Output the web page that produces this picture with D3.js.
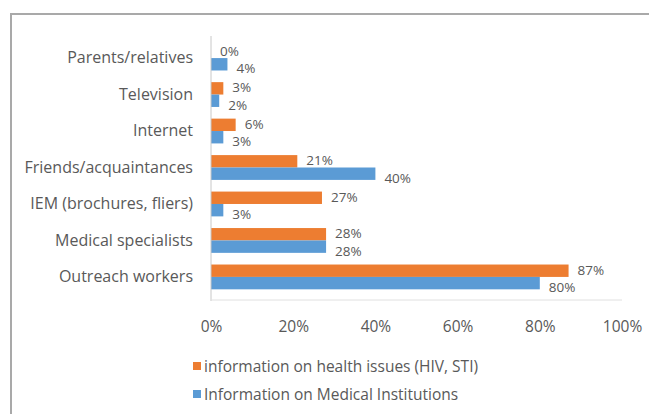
<!DOCTYPE html>
<html>
<head>
<meta charset="utf-8">
<script src="https://cdn.jsdelivr.net/npm/d3@7/dist/d3.min.js"></script>
<style>
  html, body { margin: 0; padding: 0; background: #fff; }
  svg { display: block; }
  text { font-family: "Open Sans", "Noto Sans", sans-serif; fill: #595959; }
</style>
</head>
<body>
<svg id="chart" width="649" height="414"></svg>
<script>
// Sources of information, share of respondents (%)
const categories = [
  "Parents/relatives",
  "Television",
  "Internet",
  "Friends/acquaintances",
  "IEM (brochures, fliers)",
  "Medical specialists",
  "Outreach workers"
];
const healthIssues = [0, 3, 6, 21, 27, 28, 87];        // information on health issues (HIV, STI)
const medicalInstitutions = [4, 2, 3, 40, 3, 28, 80];  // Information on Medical Institutions
const seriesNames = ["information on health issues (HIV, STI)", "Information on Medical Institutions"];
const seriesColors = ["#ED7D31", "#5B9BD5"];
const tickValues = [0, 20, 40, 60, 80, 100];

const svg = d3.select("#chart");

// outer frame (top and left edges visible)
svg.append("path")
  .attr("d", "M11,414 V14 H649")
  .attr("fill", "none")
  .attr("stroke", "#a9a9a9")
  .attr("stroke-width", 2);

const x = d3.scaleLinear().domain([0, 100]).range([211, 622]);
const y = d3.scaleBand().domain(categories).range([34, 301]).padding(0.32);
const sub = d3.scaleBand().domain([0, 1]).range([0, y.bandwidth()]);

const series = [healthIssues, medicalInstitutions];

// bars
series.forEach((vals, s) => {
  svg.append("g").selectAll("rect")
    .data(categories.map((c, i) => ({ c, v: vals[i] })))
    .join("rect")
    .attr("x", x(0))
    .attr("y", d => y(d.c) + sub(s))
    .attr("width", d => x(d.v) - x(0))
    .attr("height", sub.bandwidth())
    .attr("fill", seriesColors[s]);
});

// data labels, nudged apart so the two values of a pair stay readable
const labelShift = [-1, 4];
series.forEach((vals, s) => {
  svg.append("g").selectAll("text")
    .data(categories.map((c, i) => ({ c, v: vals[i] })))
    .join("text")
    .attr("x", d => x(d.v) + 9)
    .attr("y", d => y(d.c) + sub(s) + sub.bandwidth() / 2 + labelShift[s])
    .attr("dominant-baseline", "central")
    .attr("font-size", 13.5)
    .text(d => d.v + "%");
});

// category axis
const yAxis = svg.append("g")
  .attr("transform", `translate(${x(0)},0)`)
  .call(d3.axisLeft(y).tickSize(0).tickPadding(18));
yAxis.select(".domain").attr("stroke", "#c8c8c8").attr("d", `M0,36V301`);
yAxis.selectAll("text").attr("font-size", 16).attr("fill", "#595959");

// value axis (labels only, light baseline)
svg.append("line")
  .attr("x1", x(0)).attr("x2", x(100))
  .attr("y1", 300).attr("y2", 300)
  .attr("stroke", "#e0e0e0");
const xAxis = svg.append("g")
  .attr("transform", "translate(0,301)")
  .call(d3.axisBottom(x).tickValues(tickValues).tickFormat(d => d + "%").tickSize(0).tickPadding(20));
xAxis.select(".domain").remove();
xAxis.selectAll("text").attr("font-size", 15.5).attr("fill", "#595959");

// legend
const legend = svg.append("g").attr("transform", "translate(193,366)");
seriesNames.forEach((name, i) => {
  const row = legend.append("g").attr("transform", `translate(0,${i * 28})`);
  row.append("rect").attr("x", 0).attr("y", -4).attr("width", 8).attr("height", 8)
    .attr("fill", seriesColors[i]);
  row.append("text").attr("x", 11).attr("y", 0)
    .attr("dominant-baseline", "central")
    .attr("font-size", 15.5)
    .text(name);
});
</script>
</body>
</html>
